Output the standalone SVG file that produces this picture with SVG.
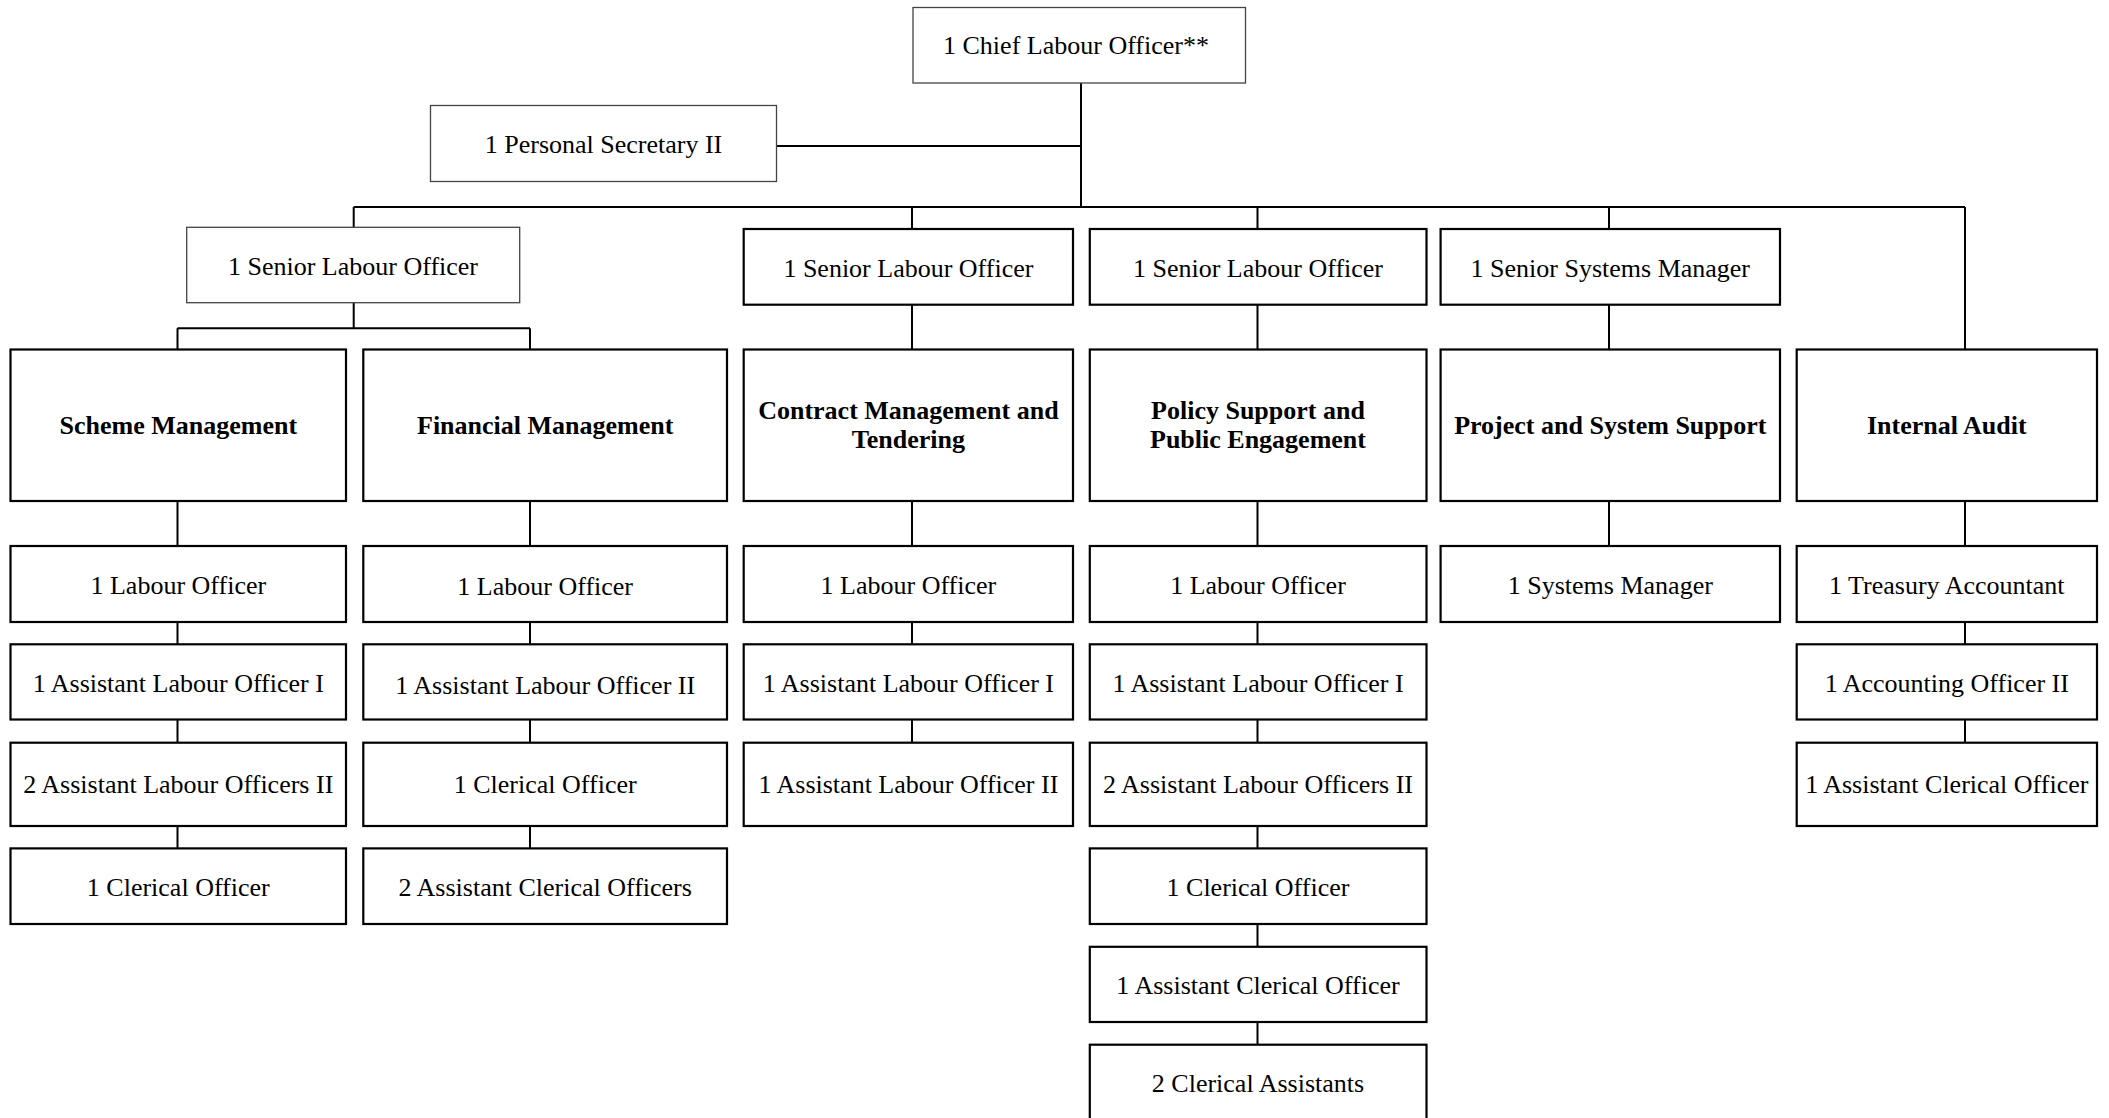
<svg xmlns="http://www.w3.org/2000/svg" width="2109" height="1118" viewBox="0 0 2109 1118">
<style>
text{font-family:"Liberation Serif","Times New Roman",serif;font-size:26px;fill:#000;text-anchor:middle}
.b{font-weight:bold}
.box{fill:#fff;stroke:#000;stroke-width:2.2}
.thin{fill:#fff;stroke:#444;stroke-width:1.3}
.ln{fill:none;stroke:#000;stroke-width:2}
</style>
<rect width="2109" height="1118" fill="#fff"/>
<g id="connectors">
<path class="ln" d="M1081 83V207M777 146H1081M353.7 207H1965M353.7 207V227M912 207V229M1257.5 207V229M1609 207V229M1965 207V350"/>
<path class="ln" d="M353.7 303V328.3M177.5 328.3H530M177.5 328.3V349.5M530 328.3V349.5"/>
<path class="ln" d="M912 305V349.5M1257.5 305V349.5M1609 305V349.5"/>
<path class="ln" d="M177.5 501V546M177.5 622V644.3M177.5 719.5V742.7M177.5 826V848.4"/>
<path class="ln" d="M530 501V546M530 622V644.3M530 719.5V742.7M530 826V848.4"/>
<path class="ln" d="M912 501V546M912 622V644.3M912 719.5V742.7"/>
<path class="ln" d="M1257.5 501V546M1257.5 622V644.3M1257.5 719.5V742.7M1257.5 826V848.4M1257.5 924V946.8M1257.5 1022V1044.7"/>
<path class="ln" d="M1609 501V546"/>
<path class="ln" d="M1965 501V546M1965 622V644.3M1965 719.5V742.7"/>
</g>
<g id="chief"><rect class="thin" x="913" y="7.5" width="332.5" height="75.5"/><text x="1076" y="54">1 Chief Labour Officer**</text></g>
<g id="secretary"><rect class="thin" x="430.5" y="105.5" width="346" height="76"/><text x="603.5" y="153">1 Personal Secretary II</text></g>
<g id="slo1"><rect class="thin" x="186.7" y="227.3" width="333" height="75.4"/><text x="353" y="275">1 Senior Labour Officer</text></g>
<g id="slo2"><rect class="box" x="743.7" y="229" width="329.3" height="75.7"/><text x="908.4" y="277">1 Senior Labour Officer</text></g>
<g id="slo3"><rect class="box" x="1089.8" y="229" width="336.7" height="75.7"/><text x="1258" y="277">1 Senior Labour Officer</text></g>
<g id="ssm"><rect class="box" x="1440.6" y="229" width="339.4" height="75.7"/><text x="1610.3" y="277">1 Senior Systems Manager</text></g>

<g id="scheme"><rect class="box" x="10.5" y="349.5" width="335.5" height="151.5"/><text class="b" x="178.3" y="434">Scheme Management</text></g>
<g id="financial"><rect class="box" x="363.3" y="349.5" width="363.7" height="151.5"/><text class="b" x="545.2" y="434">Financial Management</text></g>
<g id="contract"><rect class="box" x="743.7" y="349.5" width="329.3" height="151.5"/><text class="b" x="908.4" y="418.5">Contract Management and</text><text class="b" x="908.4" y="448">Tendering</text></g>
<g id="policy"><rect class="box" x="1089.8" y="349.5" width="336.7" height="151.5"/><text class="b" x="1258" y="418.5">Policy Support and</text><text class="b" x="1258" y="448">Public Engagement</text></g>
<g id="project"><rect class="box" x="1440.6" y="349.5" width="339.4" height="151.5"/><text class="b" x="1610.3" y="434">Project and System Support</text></g>
<g id="audit"><rect class="box" x="1796.7" y="349.5" width="300.3" height="151.5"/><text class="b" x="1946.8" y="434">Internal Audit</text></g>

<g id="a1"><rect class="box" x="10.5" y="546" width="335.5" height="76"/><text x="178.3" y="594">1 Labour Officer</text></g>
<g id="a2"><rect class="box" x="10.5" y="644.3" width="335.5" height="75.2"/><text x="178.3" y="691.5">1 Assistant Labour Officer I</text></g>
<g id="a3"><rect class="box" x="10.5" y="742.7" width="335.5" height="83.3"/><text x="178.3" y="793">2 Assistant Labour Officers II</text></g>
<g id="a4"><rect class="box" x="10.5" y="848.4" width="335.5" height="75.6"/><text x="178.3" y="895.5">1 Clerical Officer</text></g>

<g id="b1"><rect class="box" x="363.3" y="546" width="363.7" height="76"/><text x="545.2" y="594.5">1 Labour Officer</text></g>
<g id="b2"><rect class="box" x="363.3" y="644.3" width="363.7" height="75.2"/><text x="545.2" y="693.5">1 Assistant Labour Officer II</text></g>
<g id="b3"><rect class="box" x="363.3" y="742.7" width="363.7" height="83.3"/><text x="545.2" y="793">1 Clerical Officer</text></g>
<g id="b4"><rect class="box" x="363.3" y="848.4" width="363.7" height="75.6"/><text x="545.2" y="895.5">2 Assistant Clerical Officers</text></g>

<g id="c1"><rect class="box" x="743.7" y="546" width="329.3" height="76"/><text x="908.4" y="594">1 Labour Officer</text></g>
<g id="c2"><rect class="box" x="743.7" y="644.3" width="329.3" height="75.2"/><text x="908.4" y="691.5">1 Assistant Labour Officer I</text></g>
<g id="c3"><rect class="box" x="743.7" y="742.7" width="329.3" height="83.3"/><text x="908.4" y="793">1 Assistant Labour Officer II</text></g>

<g id="d1"><rect class="box" x="1089.8" y="546" width="336.7" height="76"/><text x="1258" y="594">1 Labour Officer</text></g>
<g id="d2"><rect class="box" x="1089.8" y="644.3" width="336.7" height="75.2"/><text x="1258" y="691.5">1 Assistant Labour Officer I</text></g>
<g id="d3"><rect class="box" x="1089.8" y="742.7" width="336.7" height="83.3"/><text x="1258" y="793">2 Assistant Labour Officers II</text></g>
<g id="d4"><rect class="box" x="1089.8" y="848.4" width="336.7" height="75.6"/><text x="1258" y="895.5">1 Clerical Officer</text></g>
<g id="d5"><rect class="box" x="1089.8" y="946.8" width="336.7" height="75.2"/><text x="1258" y="994">1 Assistant Clerical Officer</text></g>
<g id="d6"><rect class="box" x="1089.8" y="1044.7" width="336.7" height="76"/><text x="1258" y="1091.5">2 Clerical Assistants</text></g>

<g id="e1"><rect class="box" x="1440.6" y="546" width="339.4" height="76"/><text x="1610.3" y="594">1 Systems Manager</text></g>

<g id="f1"><rect class="box" x="1796.7" y="546" width="300.3" height="76"/><text x="1946.8" y="594">1 Treasury Accountant</text></g>
<g id="f2"><rect class="box" x="1796.7" y="644.3" width="300.3" height="75.2"/><text x="1946.8" y="691.5">1 Accounting Officer II</text></g>
<g id="f3"><rect class="box" x="1796.7" y="742.7" width="300.3" height="83.3"/><text x="1946.8" y="793">1 Assistant Clerical Officer</text></g>
</svg>
